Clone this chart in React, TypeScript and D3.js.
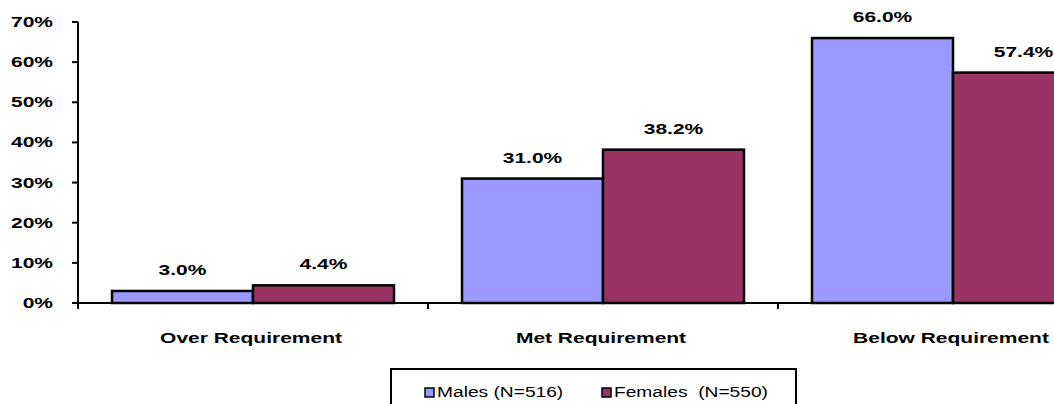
import React from "react";
import * as d3 from "d3";

const categories = ["Over Requirement", "Met Requirement", "Below Requirement"];
const seriesNames = ["Males (N=516)", "Females  (N=550)"];
const malesValues = [3.0, 31.0, 66.0];
const femalesValues = [4.4, 38.2, 57.4];
const yTicks = [0, 10, 20, 30, 40, 50, 60, 70];
const colors = ["#9999FF", "#993366"];

const W = 1054;
const H = 404;
const FONT = "'Liberation Sans', Arial, Helvetica, sans-serif";

export default function App() {
  const y = d3.scaleLinear().domain([0, 70]).range([303, 22]);
  const x = d3.scaleBand<string>().domain(categories).range([78, 1128]).padding(0);
  const bw = x.bandwidth();
  const xs = d3.scaleBand<string>().domain(["m", "f"]).range([34, bw - 34]).padding(0);
  const series = [malesValues, femalesValues];
  const keys = ["m", "f"];
  const sx = 1.5;

  return (
    <svg width={W} height={H} style={{ position: "absolute", left: 0, top: 0, background: "#fff" }} fontFamily={FONT}>
      <rect x={0} y={0} width={W} height={H} fill="#fff" />
      {/* bars */}
      {categories.map((c, ci) => (
        <g key={c}>
          {series.map((vals, si) => {
            const x0 = (x(c) as number) + (xs(keys[si]) as number);
            const yv = y(vals[ci]);
            return (
              <g key={si}>
                <rect x={x0} y={yv} width={xs.bandwidth()} height={y(0) - yv} fill={colors[si]} stroke="#000" strokeWidth={2.5} />
                <text
                  transform={`translate(${x0 + xs.bandwidth() / 2},${yv - 16}) scale(${sx},1)`}
                  textAnchor="middle"
                  fontSize={14}
                  fontWeight="bold"
                  fill="#000"
                >
                  {vals[ci].toFixed(1) + "%"}
                </text>
              </g>
            );
          })}
        </g>
      ))}
      {/* y axis */}
      <line x1={78} x2={78} y1={y(70)} y2={y(0)} stroke="#000" strokeWidth={2} />
      {yTicks.map((t) => (
        <g key={t}>
          <line x1={72} x2={78} y1={y(t)} y2={y(t)} stroke="#000" strokeWidth={2} />
          <text transform={`translate(53,${y(t) + 5}) scale(${sx},1)`} textAnchor="end" fontSize={14} fontWeight="bold" fill="#000">
            {t + "%"}
          </text>
        </g>
      ))}
      {/* x axis */}
      <line x1={78} x2={W} y1={y(0)} y2={y(0)} stroke="#000" strokeWidth={2} />
      {[...categories.map((c) => x(c) as number), 78 + 3 * bw].map((px, i) => (
        <line key={i} x1={px} x2={px} y1={y(0)} y2={y(0) + 6} stroke="#000" strokeWidth={2} />
      ))}
      {categories.map((c) => (
        <text
          key={c}
          transform={`translate(${(x(c) as number) + bw / 2 - 2},343) scale(${sx},1)`}
          textAnchor="middle"
          fontSize={14}
          fontWeight="bold"
          fill="#000"
        >
          {c}
        </text>
      ))}
      {/* legend */}
      <rect x={391} y={369} width={405} height={60} fill="#fff" stroke="#000" strokeWidth={2} />
      {seriesNames.map((s, i) => {
        const lx = i === 0 ? 425 : 602;
        return (
          <g key={s}>
            <rect x={lx} y={388} width={9} height={9} fill={colors[i]} stroke="#000" strokeWidth={1.5} />
            <text transform={`translate(${lx + 12},397) scale(1.37,1)`} fontSize={14} fill="#000" style={{ whiteSpace: "pre" }}>
              {s}
            </text>
          </g>
        );
      })}
    </svg>
  );
}
